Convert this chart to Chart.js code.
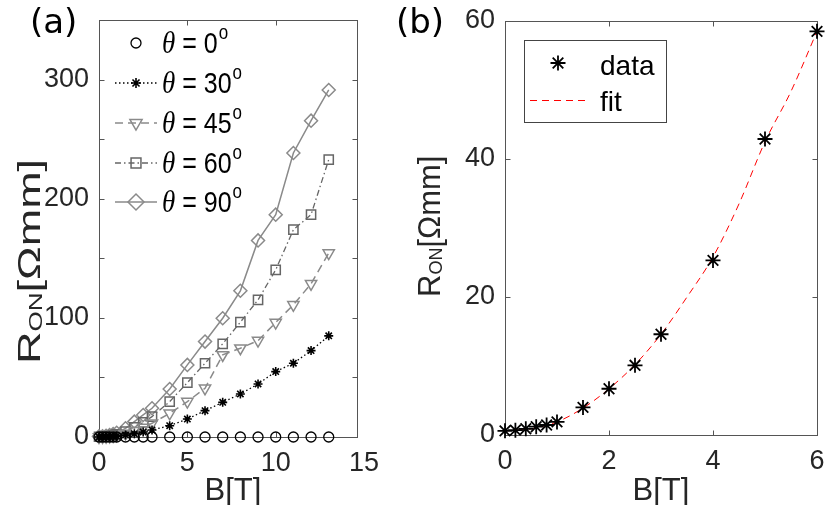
<!DOCTYPE html>
<html><head><meta charset="utf-8">
<script src="https://cdn.jsdelivr.net/npm/chart.js@4.4.1/dist/chart.umd.min.js"></script>
<style>
html,body{margin:0;padding:0;background:#fff;width:827px;height:505px;overflow:hidden}
#ca{position:absolute;left:0;top:0}
#cb{position:absolute;left:385px;top:0}
</style></head><body>
<canvas id="ca" width="385" height="505"></canvas>
<canvas id="cb" width="442" height="505"></canvas>
<script>
// ---------- data: panel (a) ----------
const B_A = [0,0.2,0.4,0.6,0.8,1,1.5,2,2.5,3,4,5,6,7,8,9,10,11,12,13];
const R_TH0  = [0,0,0,0,0,0,0,0,0,0,0,0,0,0,0,0,0,0,0,0];
const R_TH30 = [0,0.1,0.2,0.3,0.5,0.7,1.6,2.8,4.2,5.9,9.5,15.1,22.1,29.1,36.1,44.5,54.9,61.9,72.5,84.9];
const R_TH45 = [0,0.1,0.3,0.5,0.9,1.4,3.0,5.3,8.0,11.5,19.9,29.7,40.9,68.9,74.5,80.9,96.1,110.9,128.6,154.4];
const R_TH60 = [0.2,0.3,0.5,0.9,1.5,2.2,4.5,8.0,12.2,17.1,29.7,45.6,61.9,78.2,96.4,115.1,140.3,174.0,186.6,232.8];
const R_TH90 = [0.5,0.6,1.0,1.6,2.5,3.5,7.3,12.9,18.5,24.1,40.3,60.5,80.1,99.7,122.7,165.0,186.6,238.4,265.5,291.3];
const THETA_LABELS = ['0','30','45','60','90'];
const XTICKS_A = [0,5,10,15];
const YTICKS_A = [0,50,100,150,200,250,300,350];
// ---------- data: panel (b) ----------
const B_B   = [0,0.2,0.4,0.6,0.8,1,1.5,2,2.5,3,4,5,6];
const R_DATA = [0.6,0.7,0.9,1.2,1.45,1.9,4.0,6.7,10.1,14.6,25.3,42.9,58.5];
const B_FIT = [0,0.5,1,1.5,2,2.5,3,3.5,4,4.5,5,5.5,6];
const R_FIT = [0.6,0.9,1.9,3.9,6.7,10.2,14.6,20.0,25.8,33.5,42.5,49.8,58.5];
const XTICKS_B = [0,2,4,6];
const YTICKS_B = [0,20,40,60];

const TXT = '#262626', AXC = '#555555';
const SANS = "'Liberation Sans', Arial, sans-serif";
const pts = (xs, ys) => xs.map((x, i) => ({x, y: ys[i]}));

function fixX(h){return s=>{s.height=h;s.paddingLeft=s.paddingRight=s.paddingTop=s.paddingBottom=0;};}
function fixY(w){return s=>{s.width=w;s.paddingLeft=s.paddingRight=s.paddingTop=s.paddingBottom=0;};}
function setTicks(arr){return s=>{s.ticks=arr.map(v=>({value:v}));};}

function drawMarker(ctx, style, r, x, y, color, bw, rot){
  ctx.save();
  ctx.strokeStyle=color; ctx.fillStyle='rgba(0,0,0,0)'; ctx.lineWidth=bw;
  Chart.helpers.drawPoint(ctx,{pointStyle:style,radius:r,rotation:rot||0,borderWidth:bw},x,y);
  ctx.restore();
}

const boxPlugin = {
  id:'box',
  beforeDatasetsDraw(chart){
    const ctx=chart.ctx,a=chart.chartArea,xs=chart.scales.x,ys=chart.scales.y;
    ctx.save();
    ctx.strokeStyle=AXC; ctx.lineWidth=1;
    const L=Math.round(a.left)+0.5,R=Math.round(a.right)+0.5,T=Math.round(a.top)+0.5,Bm=Math.round(a.bottom)+0.5;
    ctx.strokeRect(L,T,R-L,Bm-T);
    const TL=5;
    ctx.beginPath();
    xs.ticks.forEach(t=>{
      if(t.value<xs.min-1e-9||t.value>xs.max+1e-9)return;
      const p=Math.round(xs.getPixelForValue(t.value))+0.5;
      ctx.moveTo(p,Bm);ctx.lineTo(p,Bm-TL);ctx.moveTo(p,T);ctx.lineTo(p,T+TL);
    });
    ys.ticks.forEach(t=>{
      if(t.value<ys.min-1e-9||t.value>ys.max+1e-9)return;
      const p=Math.round(ys.getPixelForValue(t.value))+0.5;
      ctx.moveTo(L,p);ctx.lineTo(L+TL,p);ctx.moveTo(R,p);ctx.lineTo(R-TL,p);
    });
    ctx.stroke();
    ctx.restore();
  }
};

function drawYTitle(ctx, xBase, yStart, stretch){
  ctx.save();
  ctx.translate(xBase,yStart);
  ctx.rotate(-Math.PI/2);
  ctx.scale(stretch,1);
  ctx.fillStyle=TXT; ctx.textBaseline='alphabetic'; ctx.textAlign='left';
  let x=0;
  ctx.font='31px '+SANS; ctx.fillText('R',x,0); x+=ctx.measureText('R').width;
  ctx.font='18px '+SANS; ctx.fillText('ON',x,2); x+=ctx.measureText('ON').width;
  ctx.font='31px '+SANS; ctx.fillText('[Ωmm]',x,0);
  ctx.restore();
}
function drawXTitle(ctx, xc, y){
  ctx.save(); ctx.fillStyle=TXT; ctx.font='31px '+SANS; ctx.textAlign='center'; ctx.textBaseline='alphabetic';
  ctx.fillText('B[T]',xc,y); ctx.restore();
}
function drawPanelLabel(ctx, s, x, y){
  ctx.save(); ctx.fillStyle='#000'; ctx.font="34px 'DejaVu Sans', sans-serif"; ctx.textAlign='left'; ctx.textBaseline='alphabetic';
  ctx.fillText(s,x,y); ctx.restore();
}

const decoA = {
  id:'decoA',
  afterDraw(chart){
    const ctx=chart.ctx;
    drawPanelLabel(ctx,'(a)',30,33);
    drawXTitle(ctx,233,500);
    drawYTitle(ctx,40,364,1.45);
    // legend
    const rows=[43,83,123,163,202];
    chart.data.datasets.forEach((ds,i)=>{
      const y=rows[i];
      ctx.save();
      if(ds.showLine!==false){
        ctx.strokeStyle=ds.borderColor; ctx.lineWidth=ds.borderWidth; ctx.setLineDash(ds.borderDash||[]);
        ctx.beginPath(); ctx.moveTo(115,y); ctx.lineTo(157,y); ctx.stroke(); ctx.setLineDash([]);
      }
      ctx.restore();
      drawMarker(ctx,ds.pointStyle,ds.legendRadius,136,y,ds.pointBorderColor,ds.pointBorderWidth,ds.pointRotation);
      ctx.save(); ctx.fillStyle='#000'; ctx.textBaseline='alphabetic';
      ctx.translate(0,y+10); ctx.scale(1,1.15);
      let x=162;
      ctx.font="italic 27px 'Liberation Serif', serif"; ctx.fillText('θ',x,0); x+=ctx.measureText('θ').width;
      ctx.font='25px '+SANS; const s=' = '+THETA_LABELS[i]; ctx.fillText(s,x,0); x+=ctx.measureText(s).width;
      ctx.font='17px '+SANS; ctx.fillText('o',x+1,-12);
      ctx.restore();
    });
  }
};

const decoB = {
  id:'decoB',
  afterDraw(chart){
    const ctx=chart.ctx;
    drawPanelLabel(ctx,'(b)',11,33);
    drawXTitle(ctx,661-385,500);
    drawYTitle(ctx,440-385,297,1);
    const ox=524-385;
    ctx.save();
    ctx.fillStyle='#fff'; ctx.fillRect(ox+0.5,40.5,142,82);
    ctx.strokeStyle='#444'; ctx.lineWidth=1; ctx.strokeRect(ox+0.5,40.5,142,82);
    ctx.restore();
    const d=chart.data.datasets[0], f=chart.data.datasets[1];
    drawMarker(ctx,d.pointStyle,d.pointRadius,558-385,63,d.pointBorderColor,d.pointBorderWidth,0);
    ctx.save();
    ctx.strokeStyle=f.borderColor; ctx.lineWidth=f.borderWidth; ctx.setLineDash(f.borderDash);
    ctx.beginPath(); ctx.moveTo(530-385,100.5); ctx.lineTo(588-385,100.5); ctx.stroke();
    ctx.restore();
    ctx.save(); ctx.fillStyle='#000'; ctx.font='28px '+SANS; ctx.textBaseline='alphabetic';
    ctx.fillText('data',600-385,75); ctx.fillText('fit',600-385,111);
    ctx.restore();
  }
};

const common = {
  responsive:false, animation:false, devicePixelRatio:1,
  plugins:{legend:{display:false},tooltip:{enabled:false}},
  elements:{line:{tension:0}}
};
const tickFont={family:SANS,size:27};

new Chart(document.getElementById('ca'),{
  type:'scatter',
  data:{datasets:[
    {data:pts(B_A,R_TH0),showLine:false,pointStyle:'circle',pointRadius:5,legendRadius:5,pointBorderColor:'#000',pointBackgroundColor:'rgba(0,0,0,0)',pointBorderWidth:1.3,borderColor:'#000',clip:false},
    {data:pts(B_A,R_TH30),showLine:true,borderColor:'#000',borderWidth:1.3,borderDash:[1.5,2.5],pointStyle:'star',pointRadius:4.5,legendRadius:5,pointBorderColor:'#000',pointBackgroundColor:'rgba(0,0,0,0)',pointBorderWidth:1.6,clip:false},
    {data:pts(B_A,R_TH45),showLine:true,borderColor:'#8a8a8a',borderWidth:1.5,borderDash:[8,5],pointStyle:'triangle',pointRotation:180,pointRadius:6.5,legendRadius:7,pointBorderColor:'#8a8a8a',pointBackgroundColor:'rgba(0,0,0,0)',pointBorderWidth:1.5,clip:false},
    {data:pts(B_A,R_TH60),showLine:true,borderColor:'#666666',borderWidth:1.3,borderDash:[6,3,1.5,3],pointStyle:'rect',pointRadius:6.5,legendRadius:7,pointBorderColor:'#666666',pointBackgroundColor:'rgba(0,0,0,0)',pointBorderWidth:1.5,clip:false},
    {data:pts(B_A,R_TH90),showLine:true,borderColor:'#8a8a8a',borderWidth:1.5,pointStyle:'rectRot',pointRadius:6.5,legendRadius:8,pointBorderColor:'#8a8a8a',pointBackgroundColor:'rgba(0,0,0,0)',pointBorderWidth:1.5,clip:false}
  ]},
  options:Object.assign({},common,{
    layout:{padding:{left:0,top:20,right:28,bottom:0}},
    scales:{
      x:{type:'linear',min:0,max:14.6,afterBuildTicks:setTicks(XTICKS_A),afterFit:fixX(68),
         grid:{display:false,drawTicks:false},border:{display:false},
         ticks:{autoSkip:false,maxRotation:0,font:tickFont,color:TXT,padding:10}},
      y:{type:'linear',min:0,max:350,afterBuildTicks:setTicks(YTICKS_A),afterFit:fixY(99),
         grid:{display:false,drawTicks:false},border:{display:false},
         ticks:{autoSkip:false,font:tickFont,color:TXT,padding:10,callback:v=>(v%100===0?String(v):'')}}
    }
  }),
  plugins:[boxPlugin,decoA]
});

new Chart(document.getElementById('cb'),{
  type:'scatter',
  data:{datasets:[
    {data:pts(B_B,R_DATA),showLine:false,pointStyle:'star',pointRadius:7.5,pointBorderColor:'#000',pointBackgroundColor:'rgba(0,0,0,0)',pointBorderWidth:1.8,clip:false,order:0},
    {data:pts(B_FIT,R_FIT),showLine:true,borderColor:'#ff0000',borderWidth:1,borderDash:[7,5],pointRadius:0,cubicInterpolationMode:'monotone',clip:false,order:1}
  ]},
  options:Object.assign({},common,{
    layout:{padding:{left:0,top:21,right:10,bottom:0}},
    scales:{
      x:{type:'linear',min:0,max:6,afterBuildTicks:setTicks(XTICKS_B),afterFit:fixX(70),
         grid:{display:false,drawTicks:false},border:{display:false},
         ticks:{autoSkip:false,maxRotation:0,font:tickFont,color:TXT,padding:10}},
      y:{type:'linear',min:0,max:60,afterBuildTicks:setTicks(YTICKS_B),afterFit:fixY(120),
         grid:{display:false,drawTicks:false},border:{display:false},
         ticks:{autoSkip:false,font:tickFont,color:TXT,padding:10}}
    }
  }),
  plugins:[boxPlugin,decoB]
});
</script>
</body></html>
